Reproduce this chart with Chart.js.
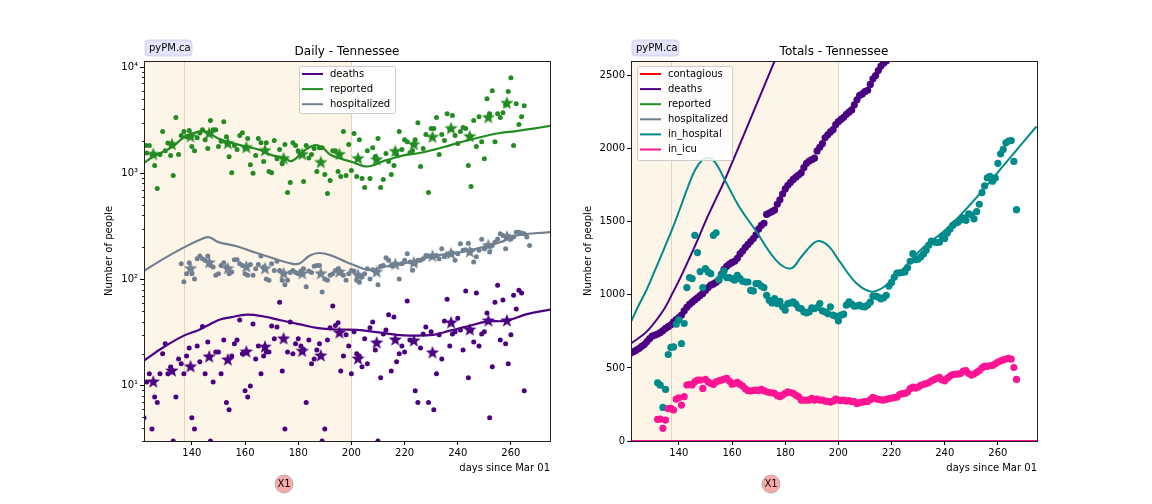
<!DOCTYPE html>
<html><head><meta charset="utf-8">
<script src="https://cdn.jsdelivr.net/npm/chart.js@4/dist/chart.umd.min.js"></script>
<style>
html,body{margin:0;padding:0;background:#fff;width:1152px;height:504px;overflow:hidden}
canvas{position:absolute;top:0}
#c1{left:0}
#c2{left:487px}
</style></head><body>
<canvas id="c1" width="576" height="504"></canvas>
<canvas id="c2" width="576" height="504"></canvas>
<script>
const xTicks=[140,160,180,200,220,240,260];
const yLogMajor=[10,100,1000,10000];
const yLogMinor=[3,4,5,6,7,8,9,20,30,40,50,60,70,80,90,200,300,400,500,600,700,800,900,2000,3000,4000,5000,6000,7000,8000,9000];
const yLinTicks=[0,500,1000,1500,2000,2500];
const shadeEnd=200, shadeLine=137;
const weekDays=[125.5,132.5,139.5,146.5,153.5,160.5,167.5,174.5,181.5,188.5,195.5,202.5,209.5,216.5,223.5,230.5,237.5,244.5,251.5,258.5];

const reportedDays=[122.6,123,124,125,126,127,128,129,130,131,132,133,134,135,136,137,138,139,140,141,142,143,144,145,146,147,148,149,150,151,152,153,154,155,156,157,158,159,160,161,162,163,164,165,166,167,168,169,170,171,172,173,174,175,176,177,178,179,180,181,182,183,184,185,186,187,188,189,190,191,192,193,194,195,196,197,198,199,200,201,202,203,204,205,206,207,208,209,210,211,212,213,214,215,216,217,218,219,220,221,222,223,224,225,226,227,228,229,230,231,232,233,234,235,236,237,238,239,240,241,242,243,244,245,246,247,248,249,250,251,252,253,254,255,256,257,258,259,260,261,262,263,264,265];
const reportedDaily=[1820,1550,1820,1500,1180,717,1500,2470,1630,1930,1470,950,3340,1500,2260,2470,2200,2520,1780,1630,2160,2390,2570,2070,1710,3130,2570,2570,1780,2000,3060,2210,1430,1010,1820,1670,2260,2410,1730,2120,1200,1000,1470,2120,1940,1290,1940,1040,1010,2030,1370,1670,1230,1860,658,817,1940,1820,1630,1480,835,1820,1390,1500,1710,1040,1740,1740,970,644,853,1630,1630,1040,930,2470,950,1860,1060,2360,930,2070,890,733,1630,890,1740,1440,2120,733,872,1530,1290,970,1180,1500,2470,1670,2070,1980,1560,1630,2070,2990,1155,1710,2310,658,2630,2630,3340,1500,2310,2030,3640,2600,3490,2260,1900,2470,2690,2630,1180,750,3130,1780,3410,1980,1370,5040,3640,5990,1980,3640,3340,3720,4400,5880,7930,1820,4520,2870,3410,4320];
const reportedWeekly=[1500,1860,2210,2360,1900,1740,1630,1370,1500,1260,1500,1370,1340,1600,1860,2180,2630,2210,3340,4550];
const reportedCurveDays=[122,125,130,133,137,141,145,150,155,160,165,170,175,177.6,182,186,189,192,196,200,205,208,212,216,220,225,230.8,237,243.4,250,255.9,262,268.4,274.8];
const reportedCurve=[1250,1410,1630,1790,2180,2400,2480,2120,1930,1790,1670,1480,1390,1300,1610,1830,1750,1500,1370,1280,1160,1180,1300,1390,1480,1540,1660,1830,2030,2230,2390,2490,2630,2790];

const hospDays=[136,137,138,139,140,141,142,143,144,145,146,147,148,149,150,151,152,153,154,155,156,157,158,159,160,161,162,163,164,165,166,167,168,169,170,171,172,173,174,175,176,177,178,179,180,181,182,183,184,185,186,187,188,189,190,191,192,193,194,195,196,197,198,199,200,201,202,203,204,205,206,207,208,209,210,211,212,213,214,215,216,217,218,219,220,221,222,223,224,225,226,227,228,229,230,231,232,233,234,235,236,237,238,239,240,241,242,243,244,245,246,247,248,249,250,251,252,253,254,255,256,257,258,259,260,261,262,263,264,265,266,267];
const hospDaily=[140,95,113,143,113,101,156,166,156,151,166,135,131,109,113,135,143,131,113,117,153,153,140,135,113,109,138,109,126,138,166,131,101,98,140,121,148,121,98,89,98,116,121,116,113,120,126,85,120,116,133,135,135,76,101,98,109,113,121,126,117,109,98,113,121,120,98,94,105,113,126,101,123,117,89,133,135,160,151,135,138,138,101,140,151,174,146,122,140,151,151,156,168,166,163,166,168,156,194,163,171,174,177,151,174,216,188,190,219,188,146,163,188,238,194,208,181,208,224,240,269,259,194,254,240,250,277,277,274,269,250,208];
const hospWeekDays=[139.5,146.5,153.5,160.5,167.5,174.5,181.5,188.5,195.5,202.5,209.5,216.5,223.5,230.5,237.5,244.5,251.5,258.5];
const hospWeekly=[126,143,126,131,126,113,113,113,117,109,117,138,143,165,174,181,208,250];
const hospCurveDays=[122,129.3,136.9,142.6,146.3,150,156.9,164.4,172,178,180.7,184.4,188,192,198,204.5,207.5,213,218.3,230.8,243.4,256,262.2,274.8];
const hospCurve=[120,156,199,233,250,224,205,177,154,140,142,168,177,169,146,126,122,132,138,165,185,224,259,279];

const deathDays=[122,123,124,125,126,127,128,129,130,131,132,133,134,135,136,137,138,139,140,141,142,143,144,145,146,147,148,149,150,151,152,153,154,155,156,157,158,159,160,161,162,163,164,165,166,167,168,169,170,171,172,173,174,175,176,177,178,179,180,181,182,183,184,185,186,187,188,189,190,191,192,193,194,195,196,197,198,199,200,201,202,203,204,205,206,207,208,209,210,211,212,213,214,215,216,217,218,219,220,221,222,223,224,225,226,227,228,229,230,231,232,233,234,235,236,237,238,239,240,241,242,243,244,245,246,247,248,249,250,251,252,253,254,255,256,257,258,259,260,261,262,263,264,265];
const deathDaily=[4.96,10.8,12.9,3.9,7.8,6.9,12.9,19.9,24.7,12.9,14.9,3,7.8,17.8,16,12.9,19,22.6,4.96,3.9,23.6,16.7,35.9,12.9,25.7,3,10.8,20.7,20.7,12.9,26.9,6.9,5.9,19,24.7,26.9,41.4,19.9,8.9,7.8,9.9,38,17.8,23.6,12.9,19,20.7,20.7,36.4,27.5,35.6,61,13.7,3.9,20.7,39.7,19.9,24.7,27.5,23.6,22,6.9,26.9,16,17.8,21.6,24.7,3,3.9,26.9,34.9,56,36.7,38.9,13.7,19,30,23.6,12.9,32,19.9,19,15,27.5,16,34.9,39.7,21.6,3,11.8,30.6,33.4,46.5,13.7,44.3,16.7,19.9,23.6,20.7,62.4,26.9,26,8.9,6.9,22.6,30.6,35.6,6.9,32,5.9,12.9,30,17.8,40.6,65,23.6,30.6,32,43,33.4,21.6,77.7,11.8,33,25.7,74.5,23.6,30.6,32,48.2,4.96,15,61,88,26.9,64,24.7,16,30,71,52.5,79,74.5,8.9];
const deathWeekly=[10.8,13.7,15,18.6,17.4,20.7,23,27.5,21,19,31.3,17.8,25.2,26.9,26.3,20.3,38.9,33.4,40.6,40.6];
const deathCurveDays=[122,129.3,137,142.6,147,150.6,154.4,160.7,167,173,180.7,187.6,194.5,202,209.5,217,222,230.8,237,243.4,250.9,258.4,266,274.8];
const deathCurve=[17.2,22.9,29.5,33.4,38,41.8,43.8,46.5,44.7,41.4,37.6,34.7,33.7,33.4,31.8,30,29.5,30,32.9,35.9,40,40.8,47,52];

const totalDeathDays=[122,123,124,125,126,127,128,129,130,131,132,133,134,135,136,137,138,139,140,141,142,143,144,145,146,147,148,149,150,151,152,153,154,155,156,157,158,159,160,161,162,163,164,165,166,167,168,169,170,171,172,173,174,175,176,177,178,179,180,181,182,183,184,185,186,187,188,189,190,191,192,193,194,195,196,197,198,199,200,201,202,203,204,205,206,207,208,209,210,211,212,213,214,215,216,217,218,219,220];
const totalDeaths=[603,612,622,633,648,660,680,700,717,725,732,742,755,770,782,795,815,830,845,862,890,915,935,950,965,980,995,1010,1030,1050,1066,1075,1085,1100,1140,1175,1195,1210,1222,1230,1250,1280,1300,1325,1345,1365,1385,1410,1450,1475,1490,1550,1560,1570,1580,1620,1650,1690,1725,1750,1770,1790,1805,1820,1835,1870,1900,1915,1925,1935,1985,2010,2035,2075,2095,2115,2130,2165,2185,2200,2215,2235,2250,2265,2300,2335,2365,2375,2390,2400,2440,2478,2500,2535,2565,2585,2600,2625,2650];
const totalDeathCurveDays=[122,128,134.2,137.3,140.4,143.6,146.7,149.9,153,157,160.5,164,168,172,176,178];
const totalDeathCurve=[667,750,895,1000,1111,1236,1361,1498,1620,1775,1925,2075,2250,2425,2600,2690];

const inHospDays=[132,133,134,135,136,137,138,139,140,141,142,143,144,145,146,147,148,149,150,151,152,153,154,155,156,157,158,159,160,161,162,163,164,165,166,167,168,169,170,171,172,173,174,175,176,177,178,179,180,181,182,183,184,185,186,187,188,189,190,191,192,193,194,195,196,197,198,199,200,201,202,203,204,205,206,207,208,209,210,211,212,213,214,215,216,217,218,219,220,221,222,223,224,225,226,227,228,229,230,231,232,233,234,235,236,237,238,239,240,241,242,243,244,245,246,247,248,249,250,251,252,253,254,255,256,257,258,259,260,261,262,263,264,265,266,267];
const inHospital=[398,382,230,353,592,640,644,799,831,667,804,1050,1118,1111,1407,1289,1159,1050,1179,1157,1145,1407,1425,1104,1134,1164,1118,1118,1111,1100,1134,1111,1093,1088,1088,1031,1027,1077,1077,1059,1050,997,963,945,975,940,956,918,895,940,945,952,936,911,906,883,877,883,911,906,913,940,890,883,872,918,861,854,822,861,868,929,952,936,922,925,929,920,918,930,950,991,991,985,972,980,997,1060,1085,1120,1148,1150,1153,1157,1185,1230,1282,1241,1245,1260,1280,1305,1340,1368,1362,1358,1360,1400,1385,1423,1450,1475,1490,1498,1512,1526,1510,1555,1548,1520,1570,1620,1700,1745,1800,1810,1778,1800,1900,1965,1995,2040,2052,2056,1913,1583];
const inHospCurveDays=[122,124.8,128,131,134.2,137.3,140.4,143.6,146,148.6,151,153.6,157.4,162.4,169,176.6,182,186,190.4,192.9,196.6,200.6,206.9,212.5,217.5,222.5,227.5,232,240,248.2,259.5,265.8,274.5];
const inHospCurve=[815,925,1040,1168,1305,1441,1589,1748,1851,1919,1938,1908,1783,1612,1437,1236,1180,1259,1350,1368,1328,1225,1077,1022,1059,1145,1240,1325,1440,1590,1828,1965,2152];

const icuDays=inHospDays;
const inIcu=[148,150,87,143,221,223,212,287,296,246,303,383,387,383,405,417,417,360,421,405,394,387,405,412,417,424,428,410,389,394,401,387,376,357,344,342,346,348,344,353,344,337,332,330,326,312,303,314,326,337,332,326,314,303,280,280,280,280,291,280,287,280,280,273,271,266,273,287,280,276,280,273,276,269,269,255,262,266,269,271,283,298,290,285,282,280,285,290,293,297,300,318,324,325,335,358,368,362,368,380,387,393,400,412,420,428,435,418,412,430,444,455,458,458,462,478,482,462,451,458,470,482,500,512,510,515,517,528,540,548,555,561,565,560,503,421];
const zeroLineDays=[122,274.7];
const zeroLine=[0,0];

const leftLegend=[['deaths','#4b0082'],['reported','#228b22'],['hospitalized','#708090']];
const rightLegend=[['contagious','#ff0000'],['deaths','#4b0082'],['reported','#228b22'],['hospitalized','#708090'],['in_hospital','#008b8b'],['in_icu','#ff1493']];

const FONT='"DejaVu Sans"';
Chart.defaults.font.family=FONT;
Chart.defaults.font.size=10;
Chart.defaults.color='#000';

function zip(xs,ys){return xs.map((x,i)=>({x,y:ys[i]}));}
function starImg(color,R){
  const s=Math.ceil(R*2)+2,c=document.createElement('canvas');c.width=c.height=s;
  const g=c.getContext('2d');g.fillStyle=color;g.beginPath();
  for(let i=0;i<10;i++){const r=i%2?R*0.42:R,a=-Math.PI/2+i*Math.PI/5;
    g.lineTo(s/2+r*Math.cos(a),s/2+r*Math.sin(a));}
  g.closePath();g.fill();return c;
}
function dots(label,xs,ys,color,r,order){return {type:'scatter',label,data:zip(xs,ys),showLine:false,pointRadius:r,pointBackgroundColor:color,pointBorderWidth:0,order};}
function stars(label,xs,ys,color,order){return {type:'scatter',label,data:zip(xs,ys),showLine:false,pointStyle:starImg(color,7),pointRadius:7,order};}
function curve(label,xs,ys,color,w,order){return {type:'line',label,data:zip(xs,ys),borderColor:color,borderWidth:w,pointRadius:0,fill:false,tension:0.4,order};}

const decor={
  id:'decor',
  beforeDatasetsDraw(ch,_,o){
    const {ctx,chartArea:a,scales:{x}}=ch;
    ctx.save();
    ctx.fillStyle='#fef5e9';
    ctx.fillRect(a.left,a.top,x.getPixelForValue(shadeEnd)-a.left,a.bottom-a.top);
    ctx.strokeStyle='#e8d3b5';ctx.lineWidth=1;
    [shadeLine,shadeEnd].forEach(v=>{const p=Math.round(x.getPixelForValue(v))+.5;
      ctx.beginPath();ctx.moveTo(p,a.top);ctx.lineTo(p,a.bottom);ctx.stroke();});
    ctx.restore();
  },
  afterDraw(ch,_,o){
    const {ctx,chartArea:a,scales:{y}}=ch;
    ctx.save();
    // frame
    ctx.strokeStyle='#222';ctx.lineWidth=1;
    ctx.strokeRect(a.left+.5,a.top+.5,a.right-a.left,a.bottom-a.top);
    // minor ticks
    (o.minor||[]).forEach(v=>{const p=Math.round(y.getPixelForValue(v))+.5;
      ctx.beginPath();ctx.moveTo(a.left-2,p);ctx.lineTo(a.left,p);ctx.stroke();});
    // legend
    const L=o.legend;
    ctx.fillStyle='rgba(255,255,255,.85)';ctx.strokeStyle='#cccccc';ctx.lineWidth=1;
    ctx.beginPath();ctx.roundRect(L.x+.5,L.y+.5,L.w,L.h,2);ctx.fill();ctx.stroke();
    ctx.font='10px '+FONT;ctx.textBaseline='middle';ctx.textAlign='left';
    L.items.forEach((it,i)=>{const yy=L.y+8+i*15.1;
      ctx.strokeStyle=it[1];ctx.lineWidth=2;
      ctx.beginPath();ctx.moveTo(L.x+3,yy);ctx.lineTo(L.x+24,yy);ctx.stroke();
      ctx.fillStyle='#000';ctx.fillText(it[0],L.x+31,yy);
    });
    // badge
    ctx.fillStyle='#e6e6fa';ctx.strokeStyle='#d8d8f4';
    ctx.beginPath();ctx.roundRect(145.5,40.5,46,15,3);ctx.fill();ctx.stroke();
    ctx.fillStyle='#000';ctx.fillText('pyPM.ca',149,48);
    // X1
    ctx.fillStyle='#f9a9a9';ctx.strokeStyle='#b0b0b0';ctx.lineWidth=1;
    ctx.beginPath();ctx.arc(284,484,9,0,Math.PI*2);ctx.fill();ctx.stroke();
    ctx.fillStyle='#000';ctx.textAlign='center';ctx.fillText('X1',284,484);
    ctx.restore();
  }
};

function make(id,title,datasets,yScale,pad,yWidth,decorOpts){
  new Chart(document.getElementById(id),{
    data:{datasets},
    plugins:[decor],
    options:{
      responsive:false,animation:false,
      layout:{padding:{left:pad,right:26,top:41.6,bottom:30}},
      plugins:{legend:{display:false},tooltip:{enabled:false},
        title:{display:true,text:title,color:'#000',fullSize:false,font:{size:12,weight:'normal'},padding:{top:3,bottom:2}},
        decor:decorOpts},
      scales:{
        x:{type:'linear',min:122,max:274.7,
          afterBuildTicks:s=>{s.ticks=xTicks.map(v=>({value:v}));},
          afterFit:s=>{s.height=33;},
          ticks:{maxRotation:0,padding:2,callback:v=>String(v),color:'#000'},
          grid:{drawOnChartArea:false,tickLength:4,tickColor:'#000',drawTicks:true},
          border:{display:false},
          title:{display:true,text:'days since Mar 01',align:'end',color:'#000',font:{size:10},padding:{top:2,bottom:0}}},
        y:Object.assign({
          afterFit:s=>{s.width=yWidth;},
          grid:{drawOnChartArea:false,tickLength:4,tickColor:'#000'},
          border:{display:false},
          title:{display:true,text:'Number of people',color:'#000',font:{size:10},padding:{top:0,bottom:0}}
        },yScale)
      }
    }
  });
}

const sup={'10':'10¹','100':'10²','1000':'10³','10000':'10⁴'};
make('c1','Daily - Tennessee',[
  stars('deaths weekly',weekDays,deathWeekly,'#4b0082',1),
  curve('deaths',deathCurveDays,deathCurve,'#4b0082',2.2,2),
  dots('deaths daily',deathDays,deathDaily,'#4b0082',2.5,3),
  stars('reported weekly',weekDays,reportedWeekly,'#228b22',1),
  curve('reported',reportedCurveDays,reportedCurve,'#228b22',2.2,2),
  dots('reported daily',reportedDays,reportedDaily,'#228b22',2.5,3),
  stars('hospitalized weekly',hospWeekDays,hospWeekly,'#708090',1),
  curve('hospitalized',hospCurveDays,hospCurve,'#708090',2.2,2),
  dots('hospitalized daily',hospDays,hospDaily,'#708090',2.5,3)
],{type:'logarithmic',min:3,max:11400,
  afterBuildTicks:s=>{s.ticks=yLogMajor.map(v=>({value:v,major:true}));},
  ticks:{padding:2,color:'#000',autoSkip:false,callback:v=>sup[String(v)]||''}
},103,41,{minor:yLogMinor,legend:{x:299,y:66,w:96,h:47,items:leftLegend}});

make('c2','Totals - Tennessee',[
  dots('in_icu daily',icuDays,inIcu,'#ff1493',3.6,1),
  dots('in_hospital daily',inHospDays,inHospital,'#008b8b',3.6,2),
  curve('in_hospital',inHospCurveDays,inHospCurve,'#008b8b',2,3),
  dots('deaths daily',totalDeathDays,totalDeaths,'#4b0082',3.6,4),
  curve('deaths',totalDeathCurveDays,totalDeathCurve,'#4b0082',2,5),
  curve('in_icu',zeroLineDays,zeroLine,'#ff1493',2,0),
  curve('contagious',zeroLineDays,zeroLine,'#ff0000',2,6)
],{type:'linear',min:0,max:2600,
  afterBuildTicks:s=>{s.ticks=yLinTicks.map(v=>({value:v}));},
  ticks:{padding:2,color:'#000',callback:v=>String(v)}
},95,49,{legend:{x:150,y:66,w:95,h:94,items:rightLegend}});
</script>
</body></html>
